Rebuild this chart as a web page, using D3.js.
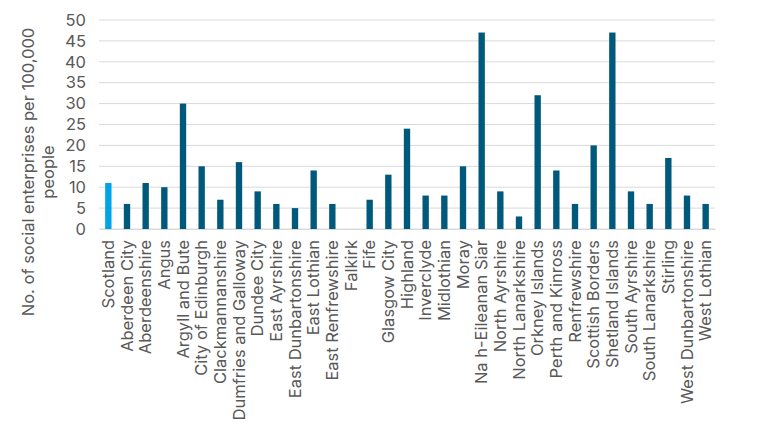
<!DOCTYPE html>
<html>
<head>
<meta charset="utf-8">
<script src="https://cdn.jsdelivr.net/npm/d3@7"></script>
<style>
  body { margin: 0; background: #fff; }
  text { font-family: Inter, "Open Sans", Arial, sans-serif; }
</style>
</head>
<body>
<div id="chart-area"></div>
<script>
// council areas, in chart order
var areas = ["Scotland", "Aberdeen City", "Aberdeenshire", "Angus", "Argyll and Bute",
  "City of Edinburgh", "Clackmannanshire", "Dumfries and Galloway", "Dundee City",
  "East Ayrshire", "East Dunbartonshire", "East Lothian", "East Renfrewshire", "Falkirk",
  "Fife", "Glasgow City", "Highland", "Inverclyde", "Midlothian", "Moray",
  "Na h-Eileanan Siar", "North Ayrshire", "North Lanarkshire", "Orkney Islands",
  "Perth and Kinross", "Renfrewshire", "Scottish Borders", "Shetland Islands",
  "South Ayrshire", "South Lanarkshire", "Stirling", "West Dunbartonshire", "West Lothian"];

// social enterprises per 100,000 people
var perHundredK = [11, 6, 11, 10, 30, 15, 7, 16, 9, 6, 5, 14, 6, 0, 7, 13, 24, 8, 8, 15,
  47, 9, 3, 32, 14, 6, 20, 47, 9, 6, 17, 8, 6];

var yTicks = [0, 5, 10, 15, 20, 25, 30, 35, 40, 45, 50];

var margin = {left: 99, right: 55, top: 20, bottom: 204};
var width = 770 - margin.left - margin.right;
var height = 433 - margin.top - margin.bottom;
var fontSize = "16.5px";

var svg = d3.select("#chart-area").append("svg")
  .attr("width", 770)
  .attr("height", 433);

var g = svg.append("g")
  .attr("transform", "translate(" + margin.left + "," + margin.top + ")");

var x = d3.scaleBand()
  .domain(areas)
  .range([0, width])
  .paddingInner(0.66)
  .paddingOuter(0.33);

var y = d3.scaleLinear()
  .domain([0, 50])
  .range([height, 0]);

// gridlines
g.append("g")
  .attr("class", "grid")
  .selectAll("line")
  .data(yTicks)
  .enter().append("line")
    .attr("x1", 0)
    .attr("x2", width)
    .attr("y1", d => y(d))
    .attr("y2", d => y(d))
    .attr("stroke", "#d9d9d9")
    .attr("stroke-width", 1);

var leftAxis = d3.axisLeft(y)
  .tickValues(yTicks)
  .tickSize(0)
  .tickPadding(13);

var yAxis = g.append("g")
  .attr("class", "y axis")
  .call(leftAxis);
yAxis.select(".domain").remove();
yAxis.selectAll("text")
  .attr("font-size", fontSize)
  .attr("fill", "#595959")
  .attr("font-family", "Inter, 'Open Sans', Arial, sans-serif");

// bars
g.selectAll("rect.bar")
  .data(areas)
  .enter().append("rect")
    .attr("class", "bar")
    .attr("x", d => x(d))
    .attr("width", x.bandwidth())
    .attr("y", (d, i) => y(perHundredK[i]))
    .attr("height", (d, i) => height - y(perHundredK[i]))
    .attr("fill", d => d == "Scotland" ? "#00a3e6" : "#00587a");

var bottomAxis = d3.axisBottom(x)
  .tickSize(0)
  .tickPadding(0);

var xAxis = g.append("g")
  .attr("class", "x axis")
  .attr("transform", "translate(0," + height + ")")
  .call(bottomAxis);
xAxis.select(".domain")
  .attr("stroke", "#d9d9d9");
xAxis.selectAll("text")
  .attr("font-size", fontSize)
  .attr("fill", "#595959")
  .attr("font-family", "Inter, 'Open Sans', Arial, sans-serif")
  .attr("text-anchor", "end")
  .attr("dy", "0.35em")
  .attr("transform", "translate(0,11) rotate(-90)")
  .attr("x", 0)
  .attr("y", 0);

// y axis title
var title = svg.append("text")
  .attr("class", "y axis-label")
  .attr("transform", "translate(28,172) rotate(-90)")
  .attr("text-anchor", "middle")
  .attr("font-size", fontSize)
  .attr("fill", "#595959");
title.append("tspan")
  .attr("x", 0).attr("y", 0).attr("dy", "0.35em")
  .text("No. of social enterprises per 100,000");
title.append("tspan")
  .attr("x", 0).attr("y", 20).attr("dy", "0.35em")
  .text("people");
</script>
</body>
</html>
